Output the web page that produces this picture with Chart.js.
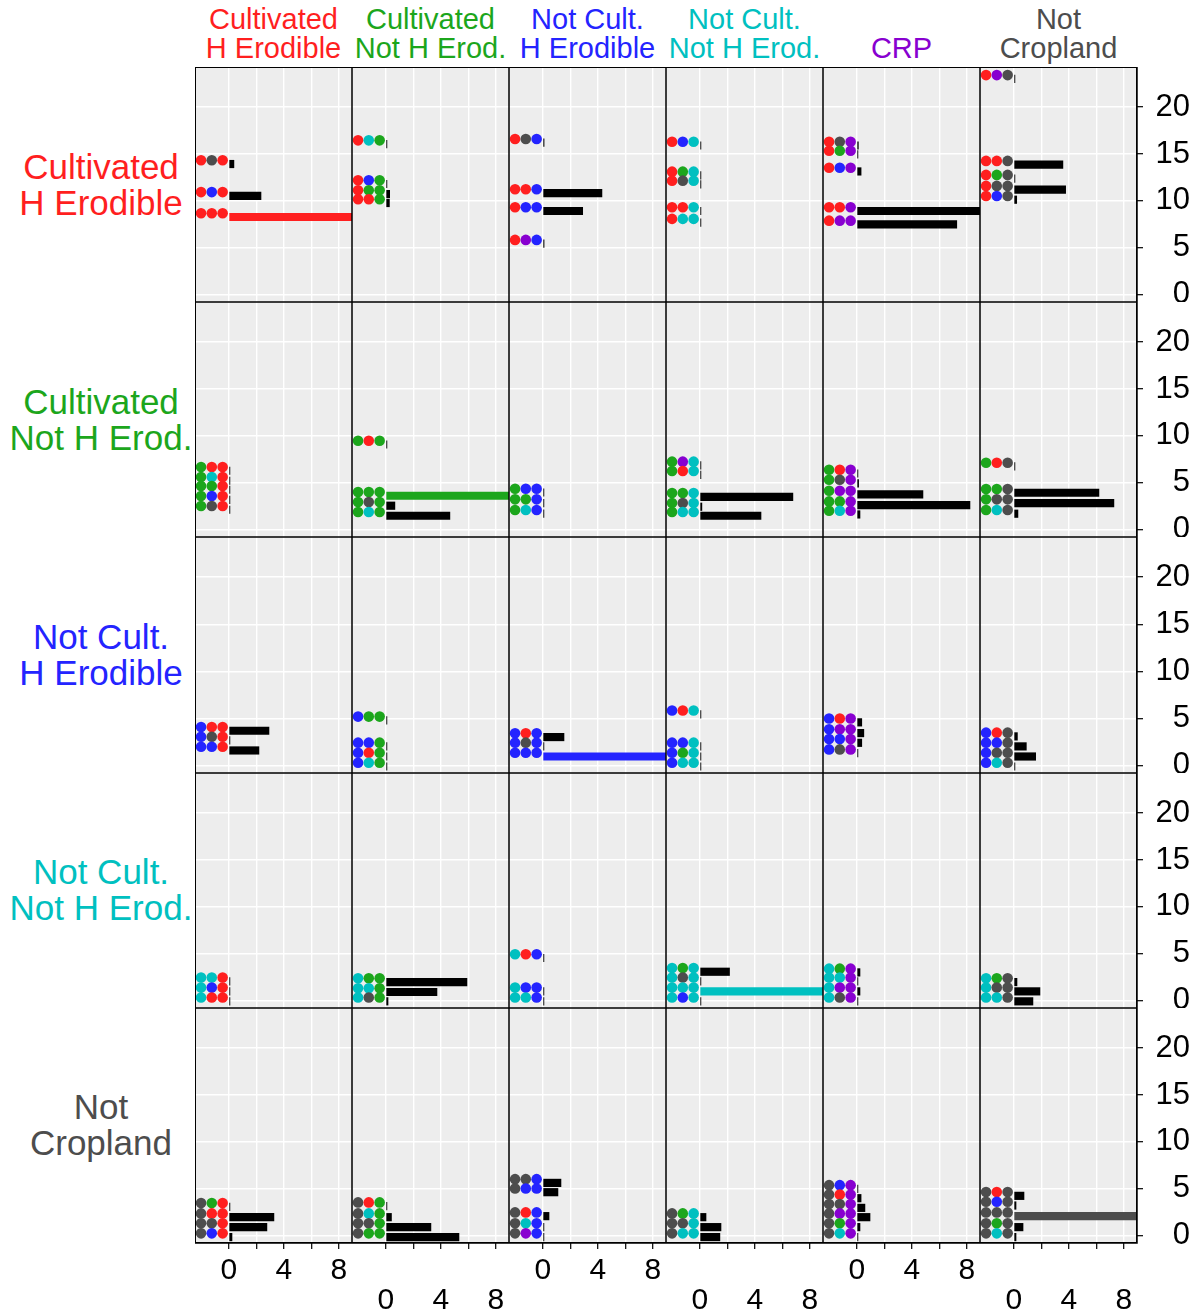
<!DOCTYPE html>
<html>
<head>
<meta charset="utf-8">
<title>Land use sequences</title>
<script src="https://cdn.jsdelivr.net/npm/chart.js@4.4.1/dist/chart.umd.min.js"></script>
<style>
  body { margin: 0; background: #fff; width: 1201px; height: 1316px; overflow: hidden; position: relative;
         font-family: "Liberation Sans", Arial, sans-serif; }
  .panel { position: absolute; }
  .colhead { position: absolute; top: 5px; width: 220px; text-align: center; font-size: 29px; line-height: 29px; white-space: nowrap; }
  .rowhead { position: absolute; left: 0; width: 202px; text-align: center; font-size: 35px; line-height: 36px; white-space: nowrap; }
  #frame { position: absolute; left: 195px; top: 67px; width: 942px; height: 1176px; border: 1px solid #000;
           box-sizing: border-box; pointer-events: none; }
</style>
</head>
<body>
<div id="frame"></div>
<script>
/* ===========================================
   Three-step land use sequences, panel grid
   =========================================== */

// --- STATES ---
// R = Cultivated H Erodible, G = Cultivated Not H Erod., B = Not Cult. H Erodible,
// C = Not Cult. Not H Erod., P = CRP, K = Not Cropland
const stateCodes = ['R', 'G', 'B', 'C', 'P', 'K'];
const stateColors = ['#FF1F1F', '#1CA61C', '#2424FF', '#00C0C0', '#8800D0', '#4D4D4D'];

// column strips (state at the end) and row strips (state at the start)
const colStates = ['R', 'G', 'B', 'C', 'P', 'K'];
const colHeadTop = ['Cultivated', 'Cultivated', 'Not Cult.', 'Not Cult.', '', 'Not'];
const colHeadBottom = ['H Erodible', 'Not H Erod.', 'H Erodible', 'Not H Erod.', 'CRP', 'Cropland'];
const rowStates = ['R', 'G', 'B', 'C', 'K'];
const rowHeadTop = ['Cultivated', 'Cultivated', 'Not Cult.', 'Not Cult.', 'Not'];
const rowHeadBottom = ['H Erodible', 'Not H Erod.', 'H Erodible', 'Not H Erod.', 'Cropland'];

// axis ticks
const xTickValues = [0, 2, 4, 6, 8];
const xLabelValues = [0, 4, 8];
const yTickValues = [0, 5, 10, 15, 20];

// --- DATA: per row, one list per column ---
// row 1: from Cultivated H Erodible
const seqRow1 = [
    ['RKR', 'RBR', 'RRR'],
    ['RCG', 'RBG', 'RGG', 'RRG'],
    ['RKB', 'RRB', 'RBB', 'RPB'],
    ['RBC', 'RGC', 'RKC', 'RRC', 'RCC'],
    ['RKP', 'RGP', 'RBP', 'RRP', 'RPP'],
    ['RPK', 'RRK', 'RGK', 'RKK', 'RBK']
];
const posRow1 = [
    [14.33, 10.94, 8.69],
    [16.45, 12.2, 11.13, 10.18],
    [16.6, 11.24, 9.33, 5.85],
    [16.3, 13.12, 12.16, 9.33, 8.09],
    [16.3, 15.35, 13.54, 9.33, 7.9],
    [23.4, 14.26, 12.77, 11.6, 10.53]
];
const countRow1 = [
    [0.36, 2.33, 12],
    [0.07, 0.07, 0.27, 0.25],
    [0.08, 4.29, 2.89, 0.08],
    [0.07, 0.07, 0.07, 0.07, 0.07],
    [0.1, 0.07, 0.3, 9.5, 7.26],
    [0.07, 3.56, 0.07, 3.76, 0.2]
];

// row 2: from Cultivated Not H Erod.
const seqRow2 = [
    ['GRR', 'GCR', 'GGR', 'GBR', 'GKR'],
    ['GRG', 'GGG', 'GKG', 'GCG'],
    ['GBB', 'GGB', 'GCB'],
    ['GPC', 'GRC', 'GGC', 'GKC', 'GCC'],
    ['GRP', 'GKP', 'GPP', 'GGP', 'GCP'],
    ['GRK', 'GGK', 'GKK', 'GCK']
];
const posRow2 = [
    [6.69, 5.63, 4.67, 3.6, 2.54],
    [9.49, 4.03, 2.97, 1.9],
    [4.38, 3.25, 2.12],
    [7.26, 6.26, 3.92, 2.86, 1.9],
    [6.4, 5.34, 4.17, 3.03, 2.04],
    [7.15, 4.35, 3.25, 2.12]
];
const countRow2 = [
    [0.07, 0.07, 0.07, 0.07, 0.07],
    [0.07, 11, 0.65, 4.65],
    [0.07, 0.07, 0.07],
    [0.07, 0.07, 6.76, 0.14, 4.44],
    [0.07, 0.12, 4.8, 8.22, 0.22],
    [0.07, 6.18, 7.27, 0.29]
];

// row 3: from Not Cult. H Erodible
const seqRow3 = [
    ['BRR', 'BKR', 'BBR'],
    ['BGG', 'BBG', 'BRG', 'BCG'],
    ['BRB', 'BKB', 'BBB'],
    ['BRC', 'BBC', 'BGC', 'BCC'],
    ['BRP', 'BPP', 'BBP', 'BKP'],
    ['BRK', 'BBK', 'BKK', 'BCK']
];
const posRow3 = [
    [4.12, 3.09, 2.03],
    [5.22, 2.46, 1.39, 0.33],
    [3.45, 2.46, 1.39],
    [5.86, 2.46, 1.39, 0.33],
    [5.01, 3.87, 2.84, 1.74],
    [3.52, 2.46, 1.39, 0.33]
];
const countRow3 = [
    [2.91, 0.07, 2.18],
    [0.07, 0.07, 0.07, 0.07],
    [1.53, 0.07, 11],
    [0.07, 0.07, 0.07, 0.07],
    [0.35, 0.5, 0.35, 0.07],
    [0.25, 0.9, 1.58, 0.07]
];

// row 4: from Not Cult. Not H Erod.
const seqRow4 = [
    ['CCR', 'CBR', 'CRR'],
    ['CGG', 'CCG', 'CKG'],
    ['CRB', 'CBB', 'CCB'],
    ['CGC', 'CKC', 'CCC', 'CBC'],
    ['CGP', 'CCP', 'CPP', 'CKP'],
    ['CGK', 'CKK', 'CCK']
];
const posRow4 = [
    [2.48, 1.41, 0.35],
    [2.4, 1.34, 0.35],
    [4.96, 1.41, 0.35],
    [3.5, 2.48, 1.41, 0.35],
    [3.43, 2.48, 1.41, 0.35],
    [2.4, 1.41, 0.35]
];
const countRow4 = [
    [0.07, 0.07, 0.07],
    [5.89, 3.71, 0.15],
    [0.07, 0.07, 0.07],
    [2.15, 0.07, 10.5, 0.07],
    [0.22, 0.07, 0.22, 0.07],
    [0.22, 1.89, 1.38]
];

// row 5: from Not Cropland
const seqRow5 = [
    ['KGR', 'KRR', 'KKR', 'KBR'],
    ['KRG', 'KCG', 'KKG', 'KGG'],
    ['KKB', 'KBB', 'KRB', 'KCB', 'KPB'],
    ['KGC', 'KKC', 'KCC'],
    ['KBP', 'KRP', 'KKP', 'KPP', 'KGP', 'KCP'],
    ['KRK', 'KBK', 'KKK', 'KGK', 'KCK']
];
const posRow5 = [
    [3.49, 2.39, 1.33, 0.27],
    [3.56, 2.39, 1.33, 0.27],
    [6.04, 5.05, 2.5, 1.33, 0.27],
    [2.39, 1.33, 0.27],
    [5.4, 4.41, 3.38, 2.39, 1.33, 0.27],
    [4.66, 3.63, 2.5, 1.33, 0.27]
];
const countRow5 = [
    [0.07, 3.27, 2.76, 0.22],
    [0.07, 0.4, 3.27, 5.31],
    [1.31, 1.09, 0.44, 0.07, 0.07],
    [0.44, 1.53, 1.45],
    [0.07, 0.3, 0.58, 0.95, 0.22, 0.07],
    [0.73, 0.15, 12, 0.66, 0.15]
];

const seqRows = [seqRow1, seqRow2, seqRow3, seqRow4, seqRow5];
const posRows = [posRow1, posRow2, posRow3, posRow4, posRow5];
const countRows = [countRow1, countRow2, countRow3, countRow4, countRow5];

// ===========================================
// LAYOUT / STYLE
// ===========================================
const GRID_LEFT = 195, GRID_TOP = 67, PANEL_W = 157, PANEL_H = 235.2;
const AXIS_W = 53, AXIS_H = 73;
const X_MIN = -2.47, X_MAX = 8.95, Y_MIN = -0.76, Y_MAX = 24.26;
const DOT_X = [-2.03, -1.25, -0.46];      // x slots of the three dots
const DOT_R = 5.3;
const BAR_SHIFT = 0.4;                     // bar hangs just below its dots
const BAR_PX = 0.8 * PANEL_H / (Y_MAX - Y_MIN);
const PANEL_BG = '#EDEDED';
const FONT = '"Liberation Sans", Arial, sans-serif';

function colorOf(code) {
    return stateColors[stateCodes.indexOf(code)];
}

const panelPlugin = {
    id: 'panelFrame',
    beforeDraw(chart) {
        const a = chart.chartArea, ctx = chart.ctx;
        ctx.save();
        ctx.fillStyle = PANEL_BG;
        ctx.fillRect(a.left, a.top, a.right - a.left, a.bottom - a.top);
        ctx.restore();
    },
    afterDraw(chart) {
        const a = chart.chartArea, ctx = chart.ctx;
        ctx.save();
        ctx.strokeStyle = '#000';
        ctx.lineWidth = 1.5;
        ctx.strokeRect(a.left, a.top, a.right - a.left, a.bottom - a.top);
        ctx.restore();
    }
};

function buildPanel(r, c) {
    const seqs = seqRows[r][c], pos = posRows[r][c], counts = countRows[r][c];
    const isBottom = r === 4, isRight = c === 5;

    const dots = [], dotColors = [], bars = [], barColors = [];
    seqs.forEach((s, i) => {
        for (let k = 0; k < 3; k++) {
            dots.push({ x: DOT_X[k], y: pos[i] });
            dotColors.push(colorOf(s[k]));
        }
        bars.push({ x: counts[i], y: pos[i] - BAR_SHIFT });
        // staying in the same state all along -> coloured bar
        barColors.push(s[0] === s[1] && s[1] === s[2] ? colorOf(s[0]) : '#000');
    });

    const top = Math.round(GRID_TOP + r * PANEL_H);
    const h = Math.round(GRID_TOP + (r + 1) * PANEL_H) - top;
    const box = document.createElement('div');
    box.className = 'panel';
    box.style.left = (GRID_LEFT + c * PANEL_W) + 'px';
    box.style.top = top + 'px';
    box.style.width = (PANEL_W + (isRight ? AXIS_W : 0)) + 'px';
    box.style.height = (h + (isBottom ? AXIS_H : 0)) + 'px';
    const canvas = document.createElement('canvas');
    box.appendChild(canvas);
    document.body.appendChild(box);

    new Chart(canvas, {
        type: 'scatter',
        data: {
            datasets: [
                {
                    type: 'scatter',
                    data: dots,
                    pointBackgroundColor: dotColors,
                    pointBorderWidth: 0,
                    pointRadius: DOT_R,
                    pointHoverRadius: DOT_R,
                    clip: false
                },
                {
                    type: 'bar',
                    indexAxis: 'y',
                    data: bars,
                    backgroundColor: barColors,
                    barThickness: BAR_PX,
                    borderWidth: 0,
                    clip: 0
                }
            ]
        },
        options: {
            responsive: true,
            maintainAspectRatio: false,
            animation: false,
            events: [],
            layout: { padding: 0, autoPadding: false },
            plugins: { legend: { display: false }, tooltip: { enabled: false } },
            scales: {
                x: {
                    type: 'linear', min: X_MIN, max: X_MAX, position: 'bottom', offset: false,
                    afterBuildTicks: s => { s.ticks = xTickValues.map(v => ({ value: v })); },
                    afterFit: s => { s.height = isBottom ? AXIS_H : 0; s.paddingLeft = 0; s.paddingRight = 0; },
                    grid: { color: '#fff', lineWidth: 1.4, offset: false, drawTicks: isBottom, tickLength: 6, tickColor: '#000', tickWidth: 1.2 },
                    border: { display: false },
                    ticks: {
                        display: isBottom, autoSkip: false, maxRotation: 0,
                        padding: c % 2 ? 34 : 3.5,
                        color: '#000', font: { size: 30, family: FONT },
                        callback: v => xLabelValues.includes(v) ? String(v) : ''
                    }
                },
                y: {
                    type: 'linear', min: Y_MIN, max: Y_MAX, position: 'right', offset: false,
                    afterBuildTicks: s => { s.ticks = yTickValues.map(v => ({ value: v })); },
                    afterFit: s => { s.width = isRight ? AXIS_W : 0; s.paddingTop = 0; s.paddingBottom = 0; },
                    grid: { color: '#fff', lineWidth: 1.4, offset: false, drawTicks: isRight, tickLength: 6, tickColor: '#000', tickWidth: 1.2 },
                    border: { display: false },
                    ticks: {
                        display: isRight, crossAlign: 'far', padding: 8,
                        color: '#000', font: { size: 31, family: FONT }
                    }
                }
            }
        },
        plugins: [panelPlugin]
    });
}

// ===========================================
// STRIP LABELS
// ===========================================
function addStrips() {
    colStates.forEach((st, c) => {
        const d = document.createElement('div');
        d.className = 'colhead';
        d.style.left = (GRID_LEFT + c * PANEL_W + PANEL_W / 2 - 110) + 'px';
        d.style.color = colorOf(st);
        d.innerHTML = (colHeadTop[c] || '&nbsp;') + '<br>' + colHeadBottom[c];
        document.body.appendChild(d);
    });
    rowStates.forEach((st, r) => {
        const d = document.createElement('div');
        d.className = 'rowhead';
        d.style.top = (GRID_TOP + (r + 0.5) * PANEL_H - 36) + 'px';
        d.style.color = colorOf(st);
        d.innerHTML = rowHeadTop[r] + '<br>' + rowHeadBottom[r];
        document.body.appendChild(d);
    });
}

addStrips();
for (let r = 0; r < 5; r++) {
    for (let c = 0; c < 6; c++) buildPanel(r, c);
}
document.body.appendChild(document.getElementById('frame'));
</script>
</body>
</html>
